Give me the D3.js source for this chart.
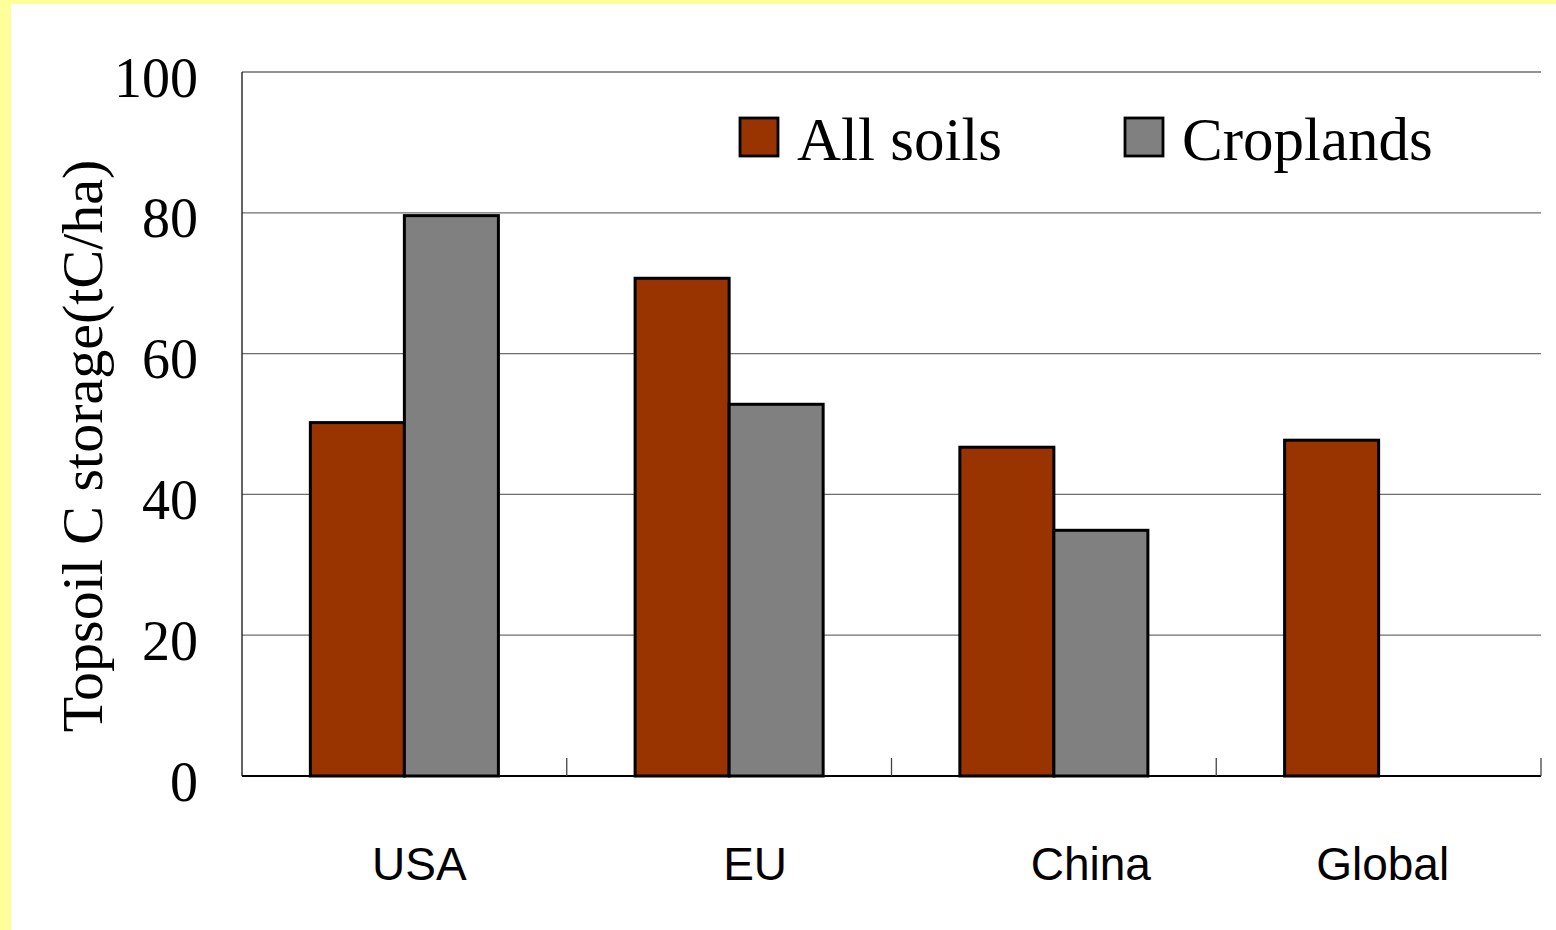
<!DOCTYPE html>
<html>
<head>
<meta charset="utf-8">
<script src="https://cdn.jsdelivr.net/npm/d3@7"></script>
<style>
  html, body { margin: 0; padding: 0; background: #ffffff; }
  svg { display: block; }
</style>
</head>
<body>
<svg id="chart" width="1556" height="930"></svg>
<script>
// Topsoil carbon storage by region, all soils vs croplands (tC/ha)
const categories = ["USA", "EU", "China", "Global"];
const seriesNames = ["All soils", "Croplands"];
const allSoils = [50.2, 70.7, 46.7, 47.7];
const croplands = [79.6, 52.8, 34.9, null];
const yTicks = [0, 20, 40, 60, 80, 100];

const seriesColors = ["#993300", "#808080"];

const W = 1556, H = 930;
const plot = { left: 242, right: 1541, top: 72, bottom: 776 };

const svg = d3.select("#chart");

// pale yellow frame on the top and left edges
svg.append("rect").attr("x", 0).attr("y", 0).attr("width", W).attr("height", H).attr("fill", "#ffff99");
svg.append("rect").attr("x", 11).attr("y", 4).attr("width", W - 11).attr("height", H - 4).attr("fill", "#ffffff");

const x = d3.scaleBand().domain(categories).range([plot.left, plot.right]).padding(0);
const xInner = d3.scaleBand().domain(seriesNames)
  .range([0, x.bandwidth()]).paddingInner(0).paddingOuter(0.727);
const y = d3.scaleLinear().domain([0, 100]).range([plot.bottom, plot.top]);

// horizontal gridlines
svg.append("g")
  .selectAll("line")
  .data(yTicks.filter(t => t > 0))
  .join("line")
  .attr("x1", plot.left).attr("x2", plot.right)
  .attr("y1", d => y(d)).attr("y2", d => y(d))
  .attr("stroke", "#6e6e6e").attr("stroke-width", 1.3);

// y axis labels
const yAxis = d3.axisLeft(y).tickValues(yTicks).tickSize(0).tickPadding(44);
const gy = svg.append("g").attr("transform", `translate(${plot.left},0)`).call(yAxis);
gy.select(".domain").remove();
gy.selectAll("text")
  .attr("font-family", "'Liberation Serif', 'Times New Roman', serif")
  .attr("font-size", 56)
  .attr("fill", "#000")
  .attr("dy", "0.43em");

// bars
const rows = categories.map((c, i) => ({ cat: c, vals: [allSoils[i], croplands[i]] }));
const groups = svg.append("g").selectAll("g")
  .data(rows)
  .join("g")
  .attr("transform", d => `translate(${x(d.cat)},0)`);

groups.selectAll("rect")
  .data(d => d.vals.map((v, j) => ({ s: seriesNames[j], v, j })).filter(e => e.v != null))
  .join("rect")
  .attr("x", d => xInner(d.s))
  .attr("width", xInner.bandwidth())
  .attr("y", d => y(d.v))
  .attr("height", d => y(0) - y(d.v))
  .attr("fill", d => seriesColors[d.j])
  .attr("stroke", "#000")
  .attr("stroke-width", 3);

// y axis line and baseline
svg.append("line")
  .attr("x1", plot.left).attr("x2", plot.left)
  .attr("y1", plot.top).attr("y2", plot.bottom)
  .attr("stroke", "#222").attr("stroke-width", 1.4);
svg.append("line")
  .attr("x1", plot.left).attr("x2", plot.right)
  .attr("y1", plot.bottom).attr("y2", plot.bottom)
  .attr("stroke", "#000").attr("stroke-width", 2);

// category separator ticks
const boundaries = categories.map(c => x(c)).concat([x(categories[categories.length - 1]) + x.bandwidth()]);
svg.append("g").selectAll("line")
  .data(boundaries.slice(1))
  .join("line")
  .attr("x1", d => d).attr("x2", d => d)
  .attr("y1", plot.bottom - 18).attr("y2", plot.bottom)
  .attr("stroke", "#444").attr("stroke-width", 1.3);

// category labels (text boxes sit a little right of each group centre)
const labelNudge = [15, 26, 37, 4];
svg.append("g").selectAll("text")
  .data(categories)
  .join("text")
  .attr("x", (d, i) => x(d) + x.bandwidth() / 2 + labelNudge[i])
  .attr("y", 880)
  .attr("text-anchor", "middle")
  .attr("font-family", "'Liberation Sans', Arial, sans-serif")
  .attr("font-size", 46)
  .attr("fill", "#000")
  .text(d => d);

// y axis title
svg.append("text")
  .attr("transform", `translate(102,446) rotate(-90)`)
  .attr("text-anchor", "middle")
  .attr("font-family", "'Liberation Serif', 'Times New Roman', serif")
  .attr("font-size", 58)
  .attr("fill", "#000")
  .text("Topsoil C storage(tC/ha)");

// legend
const legendItems = [
  { name: seriesNames[0], color: seriesColors[0], x: 740 },
  { name: seriesNames[1], color: seriesColors[1], x: 1125 }
];
const lg = svg.append("g").selectAll("g").data(legendItems).join("g")
  .attr("transform", d => `translate(${d.x},118)`);
lg.append("rect")
  .attr("width", 38).attr("height", 38)
  .attr("fill", d => d.color)
  .attr("stroke", "#000").attr("stroke-width", 2.8);
lg.append("text")
  .attr("x", 57).attr("y", 42)
  .attr("font-family", "'Liberation Serif', 'Times New Roman', serif")
  .attr("font-size", 61)
  .attr("fill", "#000")
  .text(d => d.name);
</script>
</body>
</html>
